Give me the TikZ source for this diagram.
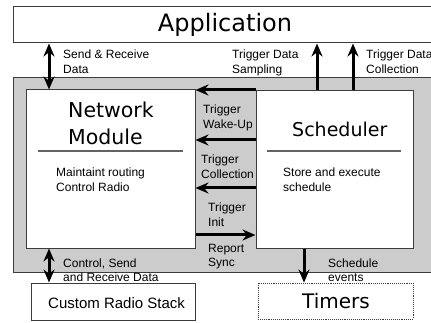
\documentclass[tikz,border=0pt]{standalone}
\usepackage{fontspec}
\setmainfont{Liberation Sans}
\newfontfamily\djv{DejaVu Sans}
\usetikzlibrary{arrows.meta}
\definecolor{bggray}{RGB}{204,204,204}
\definecolor{edge}{RGB}{60,60,60}
\tikzset{
  boxw/.style={draw=edge, line width=1pt, fill=white, inner sep=0pt},
  lbl/.style={anchor=base west, align=left, inner sep=0pt, font=\fontsize{12}{14.5}\selectfont},
  conn/.style={line width=3pt, -{Stealth[length=13pt,width=11pt]}},
  dconn/.style={line width=3pt, {Stealth[length=13pt,width=11pt]}-{Stealth[length=13pt,width=11pt]}},
  sep/.style={draw=edge!80, line width=1.3pt}
}
\begin{document}
\begin{tikzpicture}[x=1pt,y=-1pt]
\useasboundingbox (0,0) rectangle (431,323);
% boxes
\node[boxw, minimum width=419pt, minimum height=36pt] (app) at (222.5,25) {};
\node[draw=edge, line width=1pt, fill=bggray, minimum width=419pt, minimum height=194pt, inner sep=0pt] (bg) at (222.5,175) {};
\node[boxw, minimum width=169pt, minimum height=158pt] (net) at (110.5,169) {};
\node[boxw, minimum width=157pt, minimum height=157pt] (sch) at (334.5,169.5) {};
\node[boxw, minimum width=164pt, minimum height=37pt] (rad) at (113,301.5) {};
\node[draw=edge, line width=0.9pt, densely dotted, fill=white, minimum width=155pt, minimum height=36pt, inner sep=0pt] (tim) at (335.5,301) {};
% titles
\node[anchor=base, inner sep=0pt, font=\djv\fontsize{24}{28}\selectfont] (apptxt) at (225,32) {Application};
\node[anchor=base west, inner sep=0pt, align=left, font=\djv\fontsize{20.5}{27}\selectfont] (nettxt) at (68,145) {Network\\Module};
\node[anchor=base west, inner sep=0pt, font=\djv\fontsize{19}{23}\selectfont] (schtxt) at (292,137) {Scheduler};
\node[anchor=base west, inner sep=0pt, font=\djv\fontsize{20}{24}\selectfont] (timtxt) at (302,308) {Timers};
\node[anchor=base west, inner sep=0pt, font=\fontsize{15}{18}\selectfont] (radtxt) at (48,308) {Custom Radio Stack};
% separators
\draw[sep] (38,151) -- (183,151);
\draw[sep] (267,151) -- (401,151);
% body text
\node[lbl] (nbody) at (56,191.5) {Maintaint routing\\Control Radio};
\node[lbl] (sbody) at (283,191.5) {Store and execute\\schedule};
% connector x/y positions
\coordinate (lx) at (49,0);
\coordinate (ux1) at (317,0);
\coordinate (ux2) at (353,0);
\coordinate (dx) at (304,0);
\coordinate (y1) at (0,90);
\coordinate (y2) at (0,140);
\coordinate (y3) at (0,188);
\coordinate (y4) at (0,235);
% connectors
\draw[dconn] (app.south -| lx) -- (net.north -| lx);
\draw[conn] (sch.north -| ux1) -- (app.south -| ux1);
\draw[conn] (sch.north -| ux2) -- (app.south -| ux2);
\draw[conn] (sch.west |- y1) -- (net.east |- y1);
\draw[conn] (sch.west |- y2) -- (net.east |- y2);
\draw[conn] (sch.west |- y3) -- (net.east |- y3);
\draw[conn] (net.east |- y4) -- (sch.west |- y4);
\draw[conn] (sch.south -| dx) -- (tim.north -| dx);
\draw[dconn] (net.south -| lx) -- (rad.north -| lx);
% labels (base = last line)
\node[lbl] (l1) at (63,73.5) {Send \& Receive\\Data};
\node[lbl] (l2) at (232,73.5) {Trigger Data\\Sampling};
\node[lbl] (l3) at (366,73.5) {Trigger Data\\Collection};
\node[lbl] (l4) at (203,128.5) {Trigger\\Wake-Up};
\node[lbl] (l5) at (201,178.5) {Trigger\\Collection};
\node[lbl] (l6) at (208,226.5) {Trigger\\Init};
\node[lbl] (l7) at (208,266.5) {Report\\Sync};
\node[lbl] (l8) at (63,281.5) {Control, Send\\and Receive Data};
\node[lbl] (l9) at (328,281.5) {Schedule\\events};
\end{tikzpicture}
\end{document}
